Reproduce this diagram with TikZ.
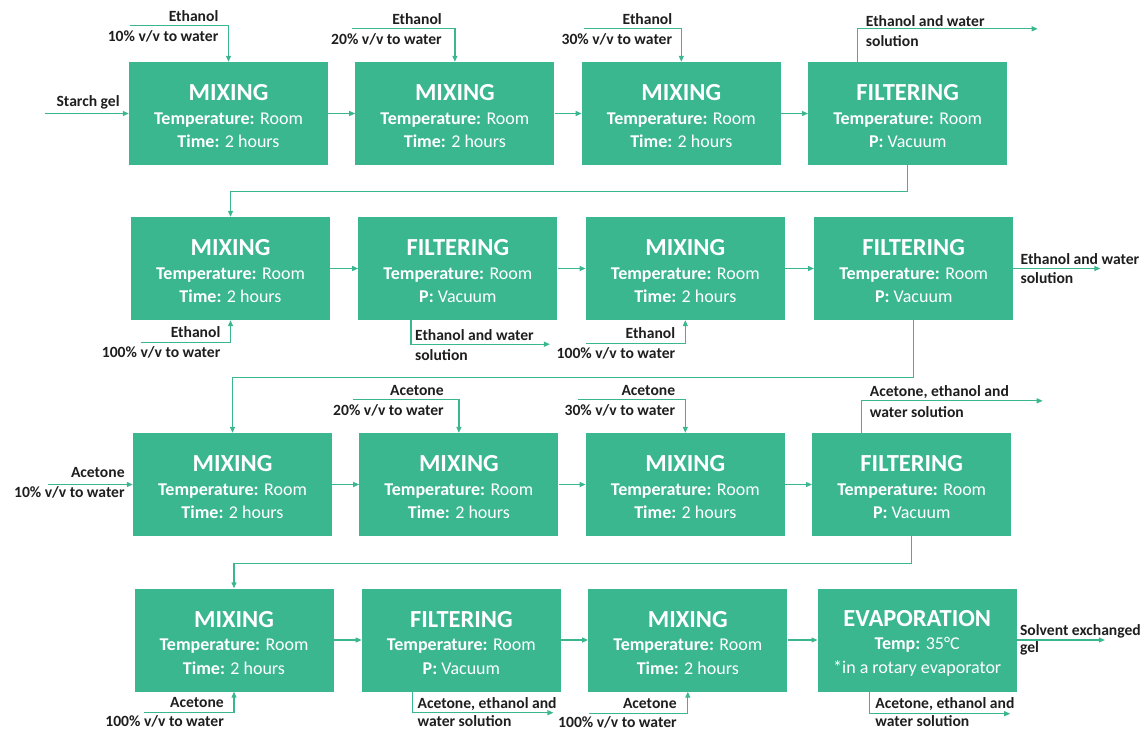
\documentclass[tikz,border=0pt]{standalone}
\usepackage{fontspec}
\setmainfont{Carlito}
\usetikzlibrary{positioning,arrows.meta}
\definecolor{procgreen}{HTML}{3BB78F}
\definecolor{labelgray}{HTML}{1E1E1E}
\newcommand{\steptitle}[1]{{\fontsize{24.5}{25}\selectfont\bfseries\rule{0pt}{22pt}#1}}
\tikzset{
  stage/.style={fill=procgreen, text=white, minimum width=199pt, minimum height=103pt, inner sep=0pt, align=center, font=\fontsize{18}{23.5}\selectfont},
  flow/.style={draw=procgreen, line width=1.2pt, -{Triangle[length=6pt,width=5pt]}},
  lbl/.style={text=labelgray, font=\fontsize{15.6}{17}\selectfont\bfseries, inner sep=0pt},
}
\begin{document}
\begin{tikzpicture}[x=1pt, y=1pt, node distance=27pt]
\useasboundingbox (0,0) rectangle (1147,-731);

% row 1
\node (mix1) [stage] at (228.5,-113.5) {\steptitle{MIXING}\\ \textbf{Temperature:} Room\\ \textbf{Time:} 2 hours};
\node (mix2) [stage, right=of mix1] {\steptitle{MIXING}\\ \textbf{Temperature:} Room\\ \textbf{Time:} 2 hours};
\node (mix3) [stage, right=of mix2] {\steptitle{MIXING}\\ \textbf{Temperature:} Room\\ \textbf{Time:} 2 hours};
\node (filt1) [stage, right=of mix3] {\steptitle{FILTERING}\\ \textbf{Temperature:} Room\\ \textbf{P:} Vacuum};

% row 2
\node (mix4) [stage] at (230.5,-268.5) {\steptitle{MIXING}\\ \textbf{Temperature:} Room\\ \textbf{Time:} 2 hours};
\node (filt2) [stage, right=28pt of mix4] {\steptitle{FILTERING}\\ \textbf{Temperature:} Room\\ \textbf{P:} Vacuum};
\node (mix5) [stage, right=28pt of filt2] {\steptitle{MIXING}\\ \textbf{Temperature:} Room\\ \textbf{Time:} 2 hours};
\node (filt3) [stage, right=29pt of mix5] {\steptitle{FILTERING}\\ \textbf{Temperature:} Room\\ \textbf{P:} Vacuum};

% row 3
\node (mix6) [stage] at (232.5,-484.5) {\steptitle{MIXING}\\ \textbf{Temperature:} Room\\ \textbf{Time:} 2 hours};
\node (mix7) [stage, right=of mix6] {\steptitle{MIXING}\\ \textbf{Temperature:} Room\\ \textbf{Time:} 2 hours};
\node (mix8) [stage, right=of mix7] {\steptitle{MIXING}\\ \textbf{Temperature:} Room\\ \textbf{Time:} 2 hours};
\node (filt4) [stage, right=of mix8] {\steptitle{FILTERING}\\ \textbf{Temperature:} Room\\ \textbf{P:} Vacuum};

% row 4
\node (mix9) [stage] at (234,-640) {\steptitle{MIXING}\\ \textbf{Temperature:} Room\\ \textbf{Time:} 2 hours};
\node (filt5) [stage, right=28pt of mix9] {\steptitle{FILTERING}\\ \textbf{Temperature:} Room\\ \textbf{P:} Vacuum};
\node (mix10) [stage, right=of filt5] {\steptitle{MIXING}\\ \textbf{Temperature:} Room\\ \textbf{Time:} 2 hours};
\node (evap) [stage, right=30pt of mix10] {\steptitle{EVAPORATION}\\ \textbf{Temp:} 35°C\\ *in a rotary evaporator};

% main flow
\draw[flow] (mix1) -- (mix2);
\draw[flow] (mix2) -- (mix3);
\draw[flow] (mix3) -- (filt1);
\draw[flow] (filt1.south) -- ++(0,-26) -| (mix4.north);
\draw[flow] (mix4) -- (filt2);
\draw[flow] (filt2) -- (mix5);
\draw[flow] (mix5) -- (filt3);
\draw[flow] (filt3.south) -- ++(0,-57) -| (mix6.north);
\draw[flow] (mix6) -- (mix7);
\draw[flow] (mix7) -- (mix8);
\draw[flow] (mix8) -- (filt4);
\draw[flow] (filt4.south) -- ++(0,-27) -| (mix9.north);
\draw[flow] (mix9) -- (filt5);
\draw[flow] (filt5) -- (mix10);
\draw[flow] (mix10) -- (evap);

% feed
\coordinate (gel) at ([xshift=-84]mix1.west);
\draw[flow] (gel) -- (mix1);
\node (gelt) [lbl, anchor=base east] at ([shift={(-9,7)}]mix1.west) {Starch gel};

% solvent added from above
\coordinate (k1) at ([yshift=36]mix1.north);
\coordinate (s1) at ([xshift=-99]k1);
\draw[flow] (s1) -- (k1) -- (mix1);
\node (s1up) [lbl, anchor=base east] at ([shift={(-10,4)}]k1) {Ethanol};
\node (s1dn) [lbl, anchor=base east] at ([shift={(-10,-16)}]k1) {10\% v/v to water};

\coordinate (k2) at ([yshift=33]mix2.north);
\coordinate (s2) at ([xshift=-103]k2);
\draw[flow] (s2) -- (k2) -- (mix2);
\node (s2up) [lbl, anchor=base east] at ([shift={(-13,4)}]k2) {Ethanol};
\node (s2dn) [lbl, anchor=base east] at ([shift={(-13,-16)}]k2) {20\% v/v to water};

\coordinate (k3) at ([yshift=33]mix3.north);
\coordinate (s3) at ([xshift=-97]k3);
\draw[flow] (s3) -- (k3) -- (mix3);
\node (s3up) [lbl, anchor=base east] at ([shift={(-9,4)}]k3) {Ethanol};
\node (s3dn) [lbl, anchor=base east] at ([shift={(-9,-16)}]k3) {30\% v/v to water};

\coordinate (k7) at ([yshift=33]mix7.north);
\coordinate (s7) at ([xshift=-106]k7);
\draw[flow] (s7) -- (k7) -- (mix7);
\node (s7up) [lbl, anchor=base east] at ([shift={(-15,4)}]k7) {Acetone};
\node (s7dn) [lbl, anchor=base east] at ([shift={(-15,-16)}]k7) {20\% v/v to water};

\coordinate (k8) at ([yshift=33]mix8.north);
\coordinate (s8) at ([xshift=-107]k8);
\draw[flow] (s8) -- (k8) -- (mix8);
\node (s8up) [lbl, anchor=base east] at ([shift={(-10,4)}]k8) {Acetone};
\node (s8dn) [lbl, anchor=base east] at ([shift={(-10,-16)}]k8) {30\% v/v to water};

% solvent added from the left
\coordinate (s6) at ([xshift=-85]mix6.west);
\draw[flow] (s6) -- (mix6);
\node (s6up) [lbl, anchor=base east] at ([shift={(-8,7)}]mix6.west) {Acetone};
\node (s6dn) [lbl, anchor=base east] at ([shift={(-8,-13)}]mix6.west) {10\% v/v to water};

% solvent added from below
\coordinate (k4) at ([yshift=-22]mix4.south);
\coordinate (s4) at ([xshift=-90]k4);
\draw[flow] (s4) -- (k4) -- (mix4);
\node (s4up) [lbl, anchor=base east] at ([shift={(-10,5)}]k4) {Ethanol};
\node (s4dn) [lbl, anchor=base east] at ([shift={(-10,-15)}]k4) {100\% v/v to water};

\coordinate (k5) at ([yshift=-23]mix5.south);
\coordinate (s5) at ([xshift=-99]k5);
\draw[flow] (s5) -- (k5) -- (mix5);
\node (s5up) [lbl, anchor=base east] at ([shift={(-10,5)}]k5) {Ethanol};
\node (s5dn) [lbl, anchor=base east] at ([shift={(-10,-15)}]k5) {100\% v/v to water};

\coordinate (k9) at ([yshift=-21]mix9.south);
\coordinate (s9) at ([xshift=-90]k9);
\draw[flow] (s9) -- (k9) -- (mix9);
\node (s9up) [lbl, anchor=base east] at ([shift={(-10,5)}]k9) {Acetone};
\node (s9dn) [lbl, anchor=base east] at ([shift={(-10,-14)}]k9) {100\% v/v to water};

\coordinate (k10) at ([yshift=-22]mix10.south);
\coordinate (s10) at ([xshift=-99]k10);
\draw[flow] (s10) -- (k10) -- (mix10);
\node (s10up) [lbl, anchor=base east] at ([shift={(-11,5)}]k10) {Acetone};
\node (s10dn) [lbl, anchor=base east] at ([shift={(-11,-14)}]k10) {100\% v/v to water};

% outlets
\coordinate (o1) at ([xshift=-50]filt1.north);
\coordinate (o1k) at ([yshift=33]o1);
\coordinate (o1e) at ([xshift=180]o1k);
\draw[flow] (o1) -- (o1k) -- (o1e);
\node (o1up) [lbl, anchor=base west] at ([shift={(8,2)}]o1k) {Ethanol and water};
\node (o1dn) [lbl, anchor=base west] at ([shift={(8,-18)}]o1k) {solution};

\coordinate (o2) at ([xshift=-47]filt2.south);
\coordinate (o2k) at ([yshift=-24]o2);
\coordinate (o2e) at ([xshift=139]o2k);
\draw[flow] (o2) -- (o2k) -- (o2e);
\node (o2up) [lbl, anchor=base west] at ([shift={(4,4)}]o2k) {Ethanol and water};
\node (o2dn) [lbl, anchor=base west] at ([shift={(4,-16)}]o2k) {solution};

\coordinate (o3) at ([xshift=87]filt3.east);
\draw[flow] (filt3) -- (o3);
\node (o3up) [lbl, anchor=base west] at ([shift={(7,4)}]filt3.east) {Ethanol and water};
\node (o3dn) [lbl, anchor=base west] at ([shift={(7,-15)}]filt3.east) {solution};

\coordinate (o4) at ([xshift=-50]filt4.north);
\coordinate (o4k) at ([yshift=32]o4);
\coordinate (o4e) at ([xshift=181]o4k);
\draw[flow] (o4) -- (o4k) -- (o4e);
\node (o4up) [lbl, anchor=base west] at ([shift={(8,4)}]o4k) {Acetone, ethanol and};
\node (o4dn) [lbl, anchor=base west] at ([shift={(8,-17)}]o4k) {water solution};

\coordinate (o5) at ([xshift=-49]filt5.south);
\coordinate (o5k) at ([yshift=-21]o5);
\coordinate (o5e) at ([xshift=141]o5k);
\draw[flow] (o5) -- (o5k) -- (o5e);
\node (o5up) [lbl, anchor=base west] at ([shift={(5,4)}]o5k) {Acetone, ethanol and};
\node (o5dn) [lbl, anchor=base west] at ([shift={(5,-14)}]o5k) {water solution};

\coordinate (o6) at ([xshift=88]evap.east);
\draw[flow] (evap) -- (o6);
\node (o6up) [lbl, anchor=base west] at ([shift={(3,5)}]evap.east) {Solvent exchanged};
\node (o6dn) [lbl, anchor=base west] at ([shift={(3,-12)}]evap.east) {gel};

\coordinate (o7) at ([xshift=-48]evap.south);
\coordinate (o7k) at ([yshift=-22]o7);
\coordinate (o7e) at ([xshift=141]o7k);
\draw[flow] (o7) -- (o7k) -- (o7e);
\node (o7up) [lbl, anchor=base west] at ([shift={(6,5)}]o7k) {Acetone, ethanol and};
\node (o7dn) [lbl, anchor=base west] at ([shift={(6,-13)}]o7k) {water solution};
\end{tikzpicture}
\end{document}
